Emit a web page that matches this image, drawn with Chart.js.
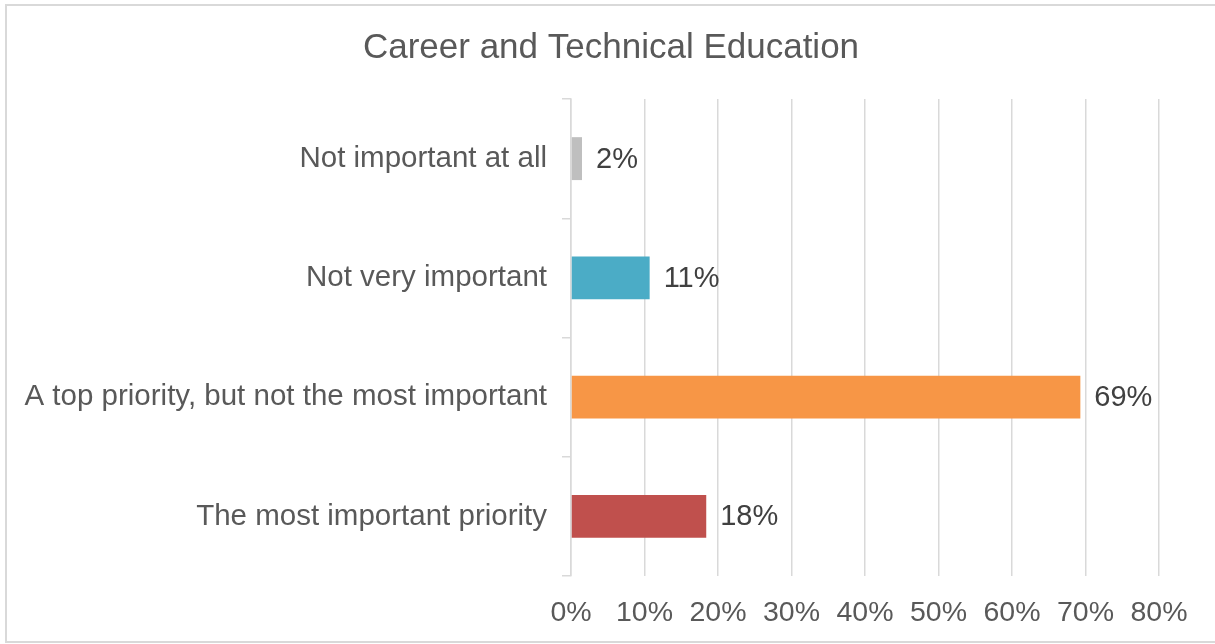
<!DOCTYPE html>
<html>
<head>
<meta charset="utf-8">
<script src="https://cdn.jsdelivr.net/npm/chart.js@4/dist/chart.umd.min.js"></script>
<style>
  html, body { margin: 0; padding: 0; background: #fff; }
  #wrap { width: 1215px; height: 644px; position: relative; }
</style>
</head>
<body>
<div id="wrap"><canvas id="cte-chart" width="1215" height="644"></canvas></div>
<script>
// chart data
const chartTitle = 'Career and Technical Education';
const categories = ['Not important at all', 'Not very important', 'A top priority, but not the most important', 'The most important priority'];
const shares = [1.5, 10.7, 69.3, 18.4];
const shareLabels = ['2%', '11%', '69%', '18%'];
const barColors = ['#bfbfbf', '#4bacc6', '#f79646', '#c0504d'];
const xTicks = [0, 10, 20, 30, 40, 50, 60, 70, 80];

const FONT = '"Liberation Sans", Arial, sans-serif';

// frame round the whole chart, and the title centred on the whole frame
const framePlugin = {
    id: 'frame',
    beforeDraw(chart) {
        const ctx = chart.ctx;
        ctx.save();
        ctx.strokeStyle = '#d9d9d9';
        ctx.lineWidth = 2;
        ctx.strokeRect(6, 5, 1212, 637);
        ctx.font = '35px ' + FONT;
        ctx.fillStyle = '#595959';
        ctx.textAlign = 'center';
        ctx.textBaseline = 'middle';
        ctx.fillText(chartTitle, 611, 48);
        ctx.restore();
    }
};

// value labels at the end of each bar
const valueLabels = {
    id: 'valueLabels',
    afterDatasetsDraw(chart) {
        const ctx = chart.ctx;
        const meta = chart.getDatasetMeta(0);
        ctx.save();
        ctx.font = '29px ' + FONT;
        ctx.fillStyle = '#404040';
        ctx.textAlign = 'left';
        ctx.textBaseline = 'middle';
        meta.data.forEach((bar, i) => {
            ctx.fillText(shareLabels[i], bar.x + 14, bar.y + 1);
        });
        ctx.restore();
    }
};

function createCteChart(targetID) {
    const ctx = document.getElementById(targetID).getContext('2d');
    return new Chart(ctx, {
        type: 'bar',
        data: {
            labels: categories,
            datasets: [{
                data: shares,
                backgroundColor: barColors,
                borderWidth: 0,
                barPercentage: 0.36,
                categoryPercentage: 1
            }]
        },
        plugins: [framePlugin, valueLabels],
        options: {
            indexAxis: 'y',
            responsive: false,
            animation: false,
            layout: { padding: { left: 0, right: 56, top: 99, bottom: 0 } },
            plugins: {
                legend: { display: false },
                tooltip: { enabled: false },
                title: { display: false }
            },
            scales: {
                x: {
                    min: 0,
                    max: 80,
                    afterBuildTicks(scale) {
                        scale.ticks = xTicks.map(v => ({ value: v }));
                    },
                    afterFit(scale) { scale.height = 68; },
                    grid: { color: '#d9d9d9', lineWidth: 1.5, drawTicks: false },
                    border: { display: false },
                    ticks: {
                        color: '#595959',
                        padding: 20,
                        font: { family: FONT, size: 28.5 },
                        callback: v => v + '%'
                    }
                },
                y: {
                    afterFit(scale) { scale.width = 571; },
                    grid: {
                        offset: true,
                        drawOnChartArea: false,
                        color: '#d9d9d9',
                        lineWidth: 1.5,
                        tickLength: 9
                    },
                    border: { display: true, color: '#d9d9d9', width: 1.5 },
                    ticks: {
                        color: '#595959',
                        padding: 15,
                        font: { family: FONT, size: 29.5 }
                    }
                }
            }
        }
    });
}

createCteChart('cte-chart');
</script>
</body>
</html>
